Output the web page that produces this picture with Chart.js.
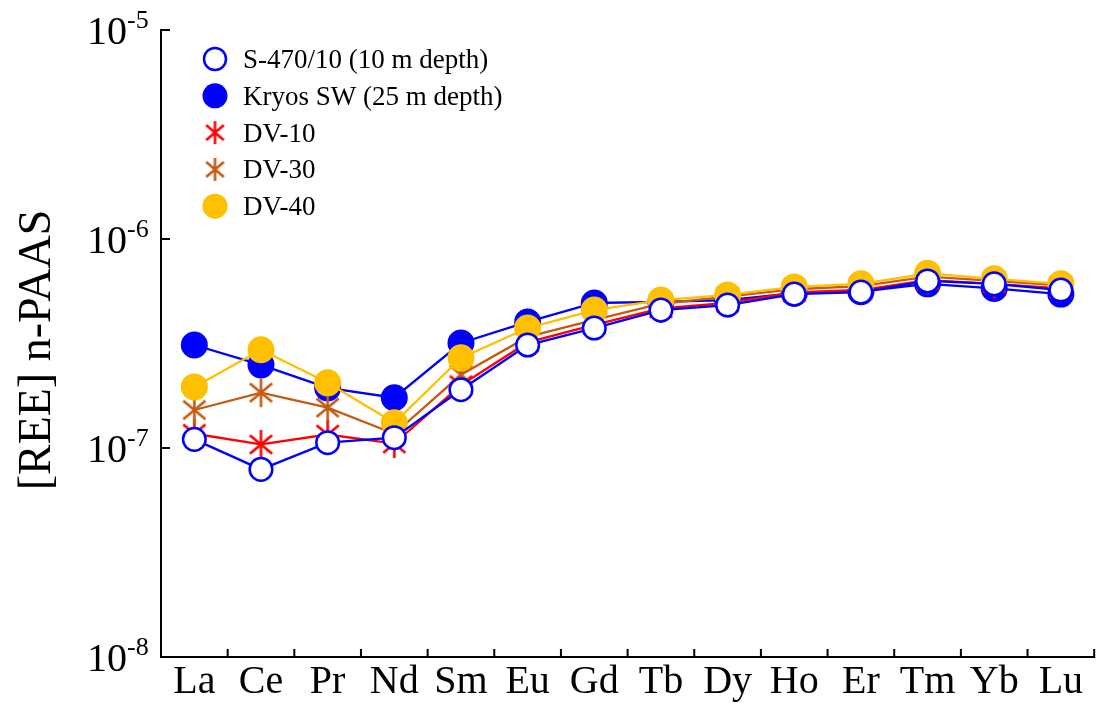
<!DOCTYPE html>
<html>
<head>
<meta charset="utf-8">
<script src="https://cdn.jsdelivr.net/npm/chart.js@4/dist/chart.umd.min.js"></script>
<style>
  html, body { margin: 0; padding: 0; background: #fff; }
  #wrap { width: 1108px; height: 707px; }
</style>
</head>
<body>
<div id="wrap"><canvas id="ree"></canvas></div>
<script>
// REE patterns normalised to PAAS
const elements = ['La', 'Ce', 'Pr', 'Nd', 'Sm', 'Eu', 'Gd', 'Tb', 'Dy', 'Ho', 'Er', 'Tm', 'Yb', 'Lu'];

const s470 = [1.10e-7, 7.9e-8, 1.06e-7, 1.12e-7, 1.90e-7, 3.11e-7, 3.75e-7, 4.57e-7, 4.83e-7, 5.45e-7, 5.57e-7, 6.3e-7, 6.1e-7, 5.7e-7];
const kryosSW = [3.11e-7, 2.50e-7, 1.94e-7, 1.74e-7, 3.18e-7, 4.01e-7, 4.94e-7, 5.0e-7, 5.1e-7, 5.5e-7, 5.6e-7, 6.1e-7, 5.8e-7, 5.45e-7];
const dv10 = [1.17e-7, 1.04e-7, 1.16e-7, 1.05e-7, 2.0e-7, 3.2e-7, 3.88e-7, 4.65e-7, 4.95e-7, 5.55e-7, 5.7e-7, 6.35e-7, 6.1e-7, 5.8e-7];
const dv30 = [1.52e-7, 1.84e-7, 1.56e-7, 1.17e-7, 2.24e-7, 3.40e-7, 4.10e-7, 4.9e-7, 5.3e-7, 5.75e-7, 5.95e-7, 6.6e-7, 6.3e-7, 6.0e-7];
const dv40 = [1.96e-7, 2.95e-7, 2.05e-7, 1.32e-7, 2.70e-7, 3.75e-7, 4.57e-7, 5.1e-7, 5.4e-7, 5.9e-7, 6.1e-7, 6.85e-7, 6.45e-7, 6.1e-7];

const yTicks = [1e-5, 1e-6, 1e-7, 1e-8];
const yExponents = ['-5', '-6', '-7', '-8'];

const BLUE = '#0000ff', RED = '#ff0000', BROWN = '#c55a11', GOLD = '#ffc000';
const SERIF = '"Liberation Serif", "Times New Roman", serif';

// six-armed asterisk marker
function asterisk(color, r) {
  const s = Math.ceil(r * 2 + 4);
  const c = document.createElement('canvas');
  c.width = c.height = s;
  const g = c.getContext('2d');
  g.strokeStyle = color;
  g.lineWidth = 2.6;
  g.translate(s / 2, s / 2);
  [90, 40, -40].forEach(a => {
    const t = a * Math.PI / 180;
    g.beginPath();
    g.moveTo(-r * Math.cos(t), -r * Math.sin(t));
    g.lineTo(r * Math.cos(t), r * Math.sin(t));
    g.stroke();
  });
  return c;
}

const datasets = [
  { label: 'S-470/10 (10 m depth)', data: s470, borderColor: BLUE, backgroundColor: '#fff',
    pointStyle: 'circle', pointRadius: 11.3, pointBorderWidth: 2.5, order: 0, legendRadius: 11 },
  { label: 'Kryos SW (25 m depth)', data: kryosSW, borderColor: BLUE, backgroundColor: BLUE,
    pointStyle: 'circle', pointRadius: 13.5, pointBorderWidth: 0, order: 4, legendRadius: 12.5 },
  { label: 'DV-10', data: dv10, borderColor: RED, backgroundColor: RED,
    pointStyle: asterisk(RED, 14.5), order: 3, legendStyle: asterisk(RED, 11.5) },
  { label: 'DV-30', data: dv30, borderColor: BROWN, backgroundColor: BROWN,
    pointStyle: asterisk(BROWN, 14.5), order: 2, legendStyle: asterisk(BROWN, 11.5) },
  { label: 'DV-40', data: dv40, borderColor: GOLD, backgroundColor: GOLD,
    pointStyle: 'circle', pointRadius: 13.5, pointBorderWidth: 0, order: 1, legendRadius: 12.5 }
].map(d => Object.assign({ borderWidth: 2.3, tension: 0, pointHoverRadius: d.pointRadius }, d));

// axes, inward ticks, superscript tick labels, title and legend
const decor = {
  id: 'decor',
  afterDraw(chart) {
    const { ctx, chartArea: a, scales: { x, y } } = chart;
    ctx.save();
    ctx.strokeStyle = '#000';
    ctx.lineWidth = 2;
    ctx.lineCap = 'square';
    ctx.beginPath();
    ctx.moveTo(a.left, a.top);
    ctx.lineTo(a.left, a.bottom);
    ctx.lineTo(a.right, a.bottom);
    yTicks.forEach(v => {
      const py = y.getPixelForValue(v);
      ctx.moveTo(a.left, py);
      ctx.lineTo(a.left + 8, py);
    });
    const step = x.width / elements.length;
    for (let i = 1; i <= elements.length; i++) {
      const px = x.left + i * step;
      ctx.moveTo(px, a.bottom);
      ctx.lineTo(px, a.bottom - 7);
    }
    ctx.stroke();

    ctx.fillStyle = '#000';
    // y tick labels: 10 with exponent
    yTicks.forEach((v, i) => {
      const py = y.getPixelForValue(v);
      ctx.font = '40px ' + SERIF;
      ctx.textAlign = 'right';
      ctx.textBaseline = 'alphabetic';
      ctx.fillText('10', 127, py + 14);
      ctx.font = '26px ' + SERIF;
      ctx.textAlign = 'left';
      ctx.fillText(yExponents[i], 127, py - 2);
    });

    // category labels
    ctx.font = '40px ' + SERIF;
    ctx.textAlign = 'center';
    elements.forEach((el, i) => {
      ctx.fillText(el, x.getPixelForValue(i), a.bottom + 36);
    });

    // y axis title
    ctx.save();
    ctx.translate(50, 350);
    ctx.rotate(-Math.PI / 2);
    ctx.font = '46px ' + SERIF;
    ctx.textAlign = 'center';
    ctx.fillText('[REE] n-PAAS', 0, 0);
    ctx.restore();

    // legend
    ctx.font = '27px ' + SERIF;
    ctx.textAlign = 'left';
    chart.data.datasets.forEach((d, i) => {
      const ly = a.top + 29 + i * 36.8;
      const lx = a.left + 54;
      ctx.fillStyle = d.backgroundColor;
      ctx.strokeStyle = d.borderColor;
      ctx.lineWidth = d.pointBorderWidth || 0;
      Chart.helpers.drawPoint(ctx, {
        pointStyle: d.legendStyle || d.pointStyle,
        radius: d.legendRadius || 12,
        borderWidth: d.pointBorderWidth || 0,
        rotation: 0
      }, lx, ly);
      ctx.fillStyle = '#000';
      ctx.fillText(d.label, a.left + 82, ly + 9);
    });
    ctx.restore();
  }
};

new Chart(document.getElementById('ree'), {
  type: 'line',
  data: { labels: elements, datasets: datasets },
  options: {
    responsive: true,
    maintainAspectRatio: false,
    animation: false,
    devicePixelRatio: 1,
    layout: { padding: { left: 161, top: 30, right: 3, bottom: 50 } },
    plugins: { legend: { display: false }, tooltip: { enabled: false } },
    elements: { line: { fill: false } },
    scales: {
      x: { type: 'category', offset: true, display: false },
      y: { type: 'logarithmic', min: 1e-8, max: 1e-5, display: false }
    }
  },
  plugins: [decor]
});
</script>
</body>
</html>
